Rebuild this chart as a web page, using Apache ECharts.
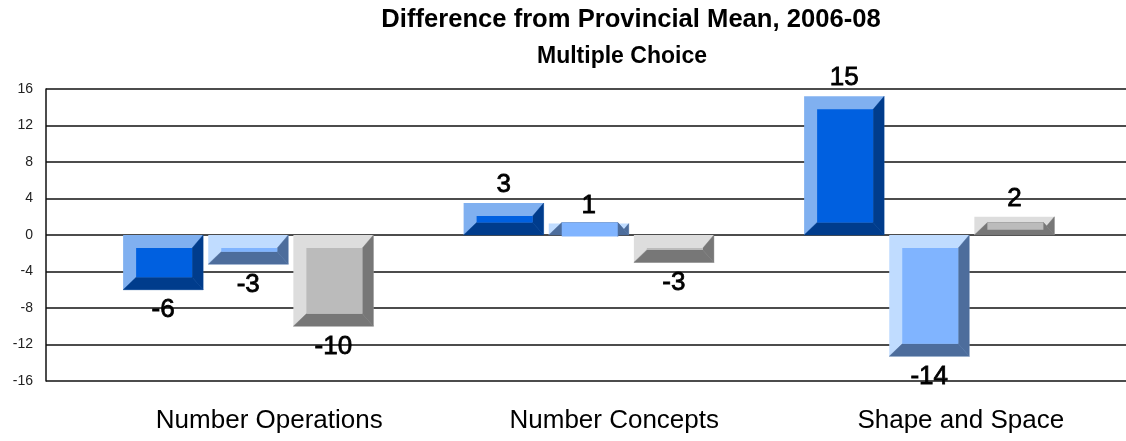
<!DOCTYPE html>
<html><head><meta charset="utf-8">
<style>html,body{margin:0;padding:0;background:#fff}#c{width:1126px;height:441px;filter:blur(0.45px)}</style>
<script src="https://cdn.jsdelivr.net/npm/echarts@6/dist/echarts.min.js"></script>
</head><body><div id="c"></div>
<script>
const categories = ['Number Operations', 'Number Concepts', 'Shape and Space'];
// Plotted heights (the source's bars are not exactly at their printed labels)
const seriesA = [-6, 3.5, 15.2];
const seriesB = [-3.2, 1.25, -13.3];
const seriesC = [-10, -3, 2];
// Printed labels
const labelsA = ['-6', '3', '15'];
const labelsB = ['-3', '1', '-14'];
const labelsC = ['-10', '-3', '2'];
const titleText = 'Difference from Provincial Mean, 2006-08';
const subtitleText = 'Multiple Choice';
const catNudge = [42, 51, 63];

const palettes = [
  {main:'#0060e0', light:'#80b0f0', dark:'#003c8c'},
  {main:'#80b4ff', light:'#c0dcff', dark:'#4d6d9c'},
  {main:'#bbbbbb', light:'#dddddd', dark:'#777777'}
];
const FONT = '"Liberation Sans", Arial, sans-serif';

function bevelSeries(name, values, labels, idx) {
  const pal = palettes[idx];
  return {
    name, type:'custom', xAxisIndex:1, yAxisIndex:1, clip:false, z:5,
    data: values.map((v,i)=>[i,v]),
    encode:{x:0,y:1},
    renderItem(params, api){
      const i = api.value(0), v = api.value(1);
      const base = api.coord([i,0]), tip = api.coord([i,v]);
      const band = api.size([1,0])[0];
      const w = band*0.235, off = band*0.25*(idx-1);
      const x0 = base[0]+off-w/2, x1 = x0+w;
      const y0 = Math.min(base[1],tip[1]), y1 = Math.max(base[1],tip[1]);
      const bl=13, br=11, bt=13, bb=12.5;
      const ix0=x0+bl, ix1=x1-br, iy0=y0+bt, iy1=y1-bb;
      const darkPoly=(pts)=>({type:'polygon',shape:{points:pts},style:{fill:pal.dark,stroke:pal.dark,lineWidth:0.4}});
      const up = v>=0;
      return {type:'group',children:[
        {type:'rect',shape:{x:x0,y:y0,width:w,height:y1-y0},style:{fill:pal.light}},
        darkPoly([[x1,y0],[x1,y1],[ix1,iy1],[ix1,iy0]]),
        darkPoly([[x0,y1],[x1,y1],[ix1,iy1],[ix0,iy1]]),
        {type:'rect',shape:{x:ix0,y:Math.min(iy0,iy1),width:ix1-ix0,height:Math.abs(iy1-iy0)},style:{fill:pal.main}},
        {type:'text',z2:10,style:{text:labels[i],x:x0+w/2,y:up?y0-18:y1+20.5,align:'center',verticalAlign:'middle',
          fill:'#000',stroke:'#000',lineWidth:0.8,font:'26px '+FONT}}
      ]};
    }
  };
}

const chart = echarts.init(document.getElementById('c'), null, {renderer:'canvas'});
chart.setOption({
  animation:false,
  backgroundColor:'#fff',
  title:[
    {text:titleText,left:626,top:2,textAlign:'center',textStyle:{fontFamily:FONT,fontWeight:'bold',fontSize:25.6,color:'#000'}},
    {text:subtitleText,left:617,top:40,textAlign:'center',textStyle:{fontFamily:FONT,fontWeight:'bold',fontSize:23,color:'#000'}}
  ],
  grid:[
    {left:46,right:0,top:89,height:292},
    {left:78,width:1021.5,top:89,height:292}
  ],
  xAxis:[
    {gridIndex:0,type:'category',data:categories,show:false},
    {gridIndex:1,type:'category',data:categories.map((c,i)=>({value:c,textStyle:{padding:[0,0,0,catNudge[i]]}})),
     axisLine:{show:false},axisTick:{show:false},
     axisLabel:{margin:27,interval:0,color:'#000',fontFamily:FONT,fontSize:26}}
  ],
  yAxis:[
    {gridIndex:0,type:'value',min:-16,max:16,interval:4,
     axisLine:{show:true,onZero:false,lineStyle:{color:'#111',width:1.5}},axisTick:{show:false},
     splitLine:{show:true,lineStyle:{color:'#111',width:1.5}},
     axisLabel:{margin:13,color:'#222',fontFamily:FONT,fontSize:14}},
    {gridIndex:1,type:'value',min:-16,max:16,interval:4,show:false,splitLine:{show:false}}
  ],
  series:[
    bevelSeries('A',seriesA,labelsA,0),
    bevelSeries('B',seriesB,labelsB,1),
    bevelSeries('C',seriesC,labelsC,2)
  ]
});
</script></body></html>
